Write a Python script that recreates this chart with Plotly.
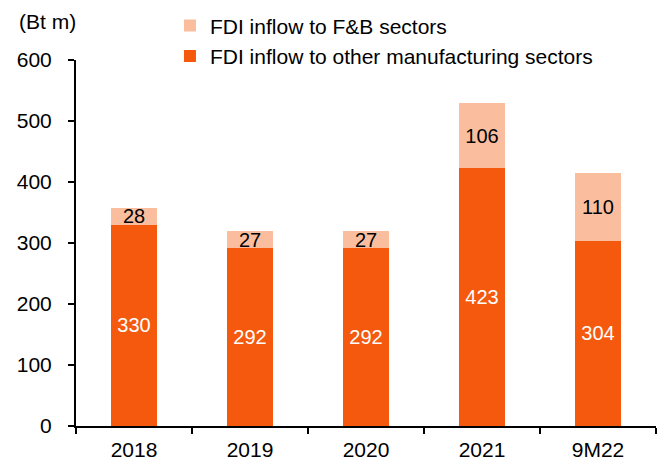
import plotly.graph_objects as go

categories = ["2018", "2019", "2020", "2021", "9M22"]
other_mfg = [330, 292, 292, 423, 304]
fnb = [28, 27, 27, 106, 110]

C_DARK = "#F5590E"
C_LIGHT = "#FABE9F"
FONT = "Liberation Sans, Arial, sans-serif"
FS = 21

fig = go.Figure()
fig.add_trace(go.Bar(
    x=categories, y=other_mfg, name="FDI inflow to other manufacturing sectors",
    marker=dict(color=C_DARK, line=dict(width=0)),
    text=[str(v) for v in other_mfg], textposition="inside", insidetextanchor="middle",
    textfont=dict(color="white", size=20, family=FONT), legendrank=2,
))
fig.add_trace(go.Bar(
    x=categories, y=fnb, name="FDI inflow to F&B sectors",
    marker=dict(color=C_LIGHT, line=dict(width=0)),
    text=[str(v) for v in fnb], textposition="inside", insidetextanchor="middle",
    textfont=dict(color="black", size=20, family=FONT), legendrank=1,
))

# page body has an 8px default margin; size the figure so the plot area lands where it should
fig.update_layout(
    barmode="stack", bargap=0.6,
    width=658, height=453,
    margin=dict(l=68, r=10, t=52, b=35, autoexpand=False),
    paper_bgcolor="white", plot_bgcolor="white",
    font=dict(family=FONT, size=FS, color="black"),
    uniformtext=dict(minsize=20, mode="show"),
    showlegend=True,
    legend=dict(
        x=0.162, y=1.149, xanchor="left", yanchor="top",
        traceorder="normal", tracegroupgap=0,
        font=dict(size=FS, family=FONT), bgcolor="rgba(0,0,0,0)",
        itemwidth=30,
    ),
    xaxis=dict(
        showline=True, linecolor="black", linewidth=2,
        ticks="outside", tickson="boundaries", ticklen=6, tickwidth=2, tickcolor="black",
        range=[-0.5, 4.5], tickfont=dict(size=FS), ticklabelstandoff=4,
    ),
    yaxis=dict(
        range=[0, 600], dtick=100, showgrid=False, zeroline=False,
        showline=True, linecolor="black", linewidth=2,
        ticks="outside", ticklen=6, tickwidth=2, tickcolor="black",
        tickfont=dict(size=FS), ticklabelstandoff=12,
    ),
    annotations=[dict(
        text="(Bt m)", xref="paper", yref="paper",
        x=-0.102, y=1.104, xanchor="left", yanchor="middle",
        showarrow=False, font=dict(size=FS, family=FONT),
    )],
)

fig.write_html("out.html")
